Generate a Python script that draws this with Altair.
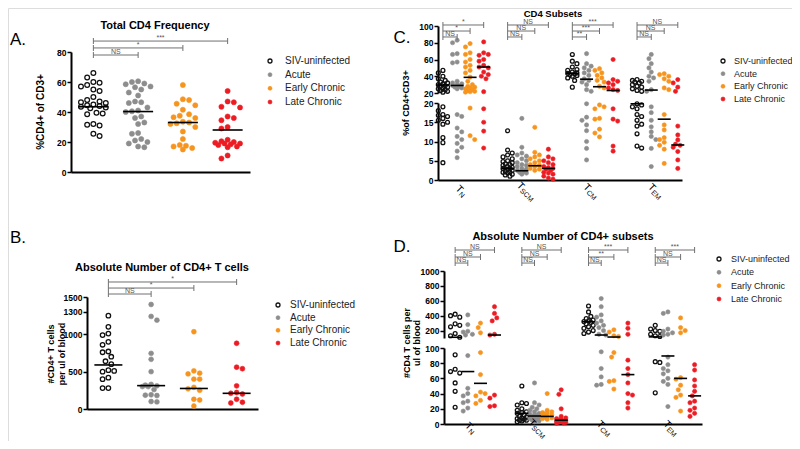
import math
import altair as alt
import pandas as pd

M = 8
W, H = 784, 433
FONT = "Liberation Sans, Arial, sans-serif"
GRAY = "#707070"

GROUPS = ["SIV-uninfected", "Acute", "Early Chronic", "Late Chronic"]
FILLS = ["transparent", "#8d8d8d", "#f7941d", "#ed1c24"]
STROKES = ["#111111", "#8d8d8d", "#f7941d", "#ed1c24"]
SUBSETS = ["N", "SCM", "CM", "EM"]

# ---------------- Panel A: %CD4+ of CD3+
A_SIV = [66, 63, 60, 59.5, 58, 57, 55, 54, 50, 48, 47, 46.5, 46, 45, 44.5, 44, 43.5, 43, 42.5, 39.5, 39, 38.5, 32, 31.5, 31, 25.5, 24]
A_ACUTE = [60.5, 60, 59, 58.5, 57, 56.5, 55, 53, 51, 47, 46.5, 46, 43, 41, 40.5, 40, 37, 36, 33, 32, 26, 25.5, 22, 21, 20, 19, 17, 16.5]
A_EARLY = [58, 48.5, 48, 45.5, 44.5, 41.5, 38.5, 37.5, 36.5, 36, 33.5, 33, 32.5, 32, 30, 27, 22, 18, 17.5, 17, 16, 15]
A_LATE = [54, 47, 46.5, 43.5, 43, 37, 36, 34.5, 30, 29, 21.5, 20.5, 20, 19.5, 19, 19, 18.5, 18, 17, 16.5, 11, 9]
A_MEDIAN = [43.5, 40.3, 33.0, 28.0]
A_SIG = ["NS", "*", "***"]
A_TICKS = [0, 20, 40, 60, 80]

# ---------------- Panel B: absolute CD4+ T cells
B_SIV = [1250, 1100, 1010, 990, 900, 860, 770, 760, 700, 640, 600, 520, 510, 500, 420, 400, 280, 280]
B_ACUTE = [1400, 1240, 1190, 745, 665, 500, 330, 320, 310, 300, 300, 260, 190, 185, 180, 100, 95]
B_EARLY = [1035, 510, 480, 470, 400, 400, 290, 270, 250, 130, 120, 40]
B_LATE = [880, 560, 540, 310, 220, 210, 200, 130, 90, 80]
B_MEDIAN = [590, 313, 275, 210]
B_SIG = ["NS", "*", "*"]
B_TICKS = [0, 500, 1000, 1300, 1500]

# ---------------- Panel C: CD4 subsets (% of CD4+CD3+), per group: [TN, TSCM, TCM, TEM]
C_SIV = [
    [47, 44, 40, 37, 35, 33, 32, 31, 30, 29, 28, 27, 26, 25, 24, 23, 22, 21, 19, 18, 17, 16.8, 16.5, 16, 15.5, 15, 14.5, 11, 9.7, 4.5],
    [12.8, 7.8, 7, 6.5, 6, 5.5, 5, 4.8, 4.5, 4.2, 4, 3.8, 3.5, 3.3, 3, 3, 2.8, 2.5, 2.3, 2, 2, 1.8, 1.5, 1.3, 1],
    [66, 58, 55, 51, 48, 47, 45, 44, 43.5, 43, 42, 41, 40, 38, 35, 27],
    [36, 35, 34, 33, 32, 30, 28, 27, 25, 23, 22, 19.8, 19.5, 19, 18.5, 17, 16.5, 15.5, 14.5, 14, 12, 8.8, 8.3],
]
C_ACUTE = [
    [83, 80, 67, 66, 57, 56, 34, 32, 31, 30, 29, 28, 27, 26, 25, 17, 16.5, 13.5, 12.5, 11.3, 10.5, 9.5, 8.5, 7.5, 5.8],
    [16, 8.5, 7, 6.5, 6.2, 5.5, 5, 4.5, 4, 3.8, 3.5, 3, 2.8, 2.5, 2.2, 2, 1.8, 1.5],
    [67, 55, 52, 50, 47, 44, 41, 37, 35, 33, 30, 24, 22, 19.8, 16.3, 15.5, 14.3, 12.8, 10, 8.2, 5.2],
    [66, 61, 55, 50, 45, 40, 38, 34, 24, 22, 19, 17.5, 15.5, 13.8, 12.5, 11.3, 10.5, 8.2, 3.5],
]
C_EARLY = [
    [79, 75, 68, 66, 60, 57, 53, 51, 47, 44, 39, 34, 30, 28, 27, 26, 25, 24, 23, 22, 21.5, 21, 18.7, 11.5, 10.5],
    [13.7, 7.2, 6.5, 6, 5.5, 5, 4.5, 4, 3.8, 3.5, 3, 2.8, 2.5],
    [49, 47, 44, 41, 38, 35, 33, 28, 26, 19.5, 19, 18.5, 16, 15.8, 13.2, 12.2, 11.2],
    [43, 42, 40, 37, 34, 26, 24, 17, 14.3, 13, 11, 10.5, 9.8, 9, 8, 4.3],
]
C_LATE = [
    [81, 68, 66, 65, 60, 58, 53, 51, 50, 45, 42, 40, 37, 21.5, 18.5, 15, 12.7, 8.3],
    [8, 6, 5.5, 5, 4.5, 4, 3.5, 3.2, 3, 2.8, 2.5, 2, 1.8, 1.5, 1, 0.5, 0.2],
    [60, 36, 34, 32, 30, 26, 24, 23, 18.5, 15.8, 15.3, 8.8, 7.5],
    [36, 32, 27, 22, 14, 11.7, 10.4, 9.3, 9, 8.5, 7.4, 5.2, 3],
]
C_MEDIAN = [[29.5, 3.0, 43.5, 19.8], [29, 2.4, 36.5, 23.5], [38.7, 3.7, 27.5, 15.8], [51, 3.0, 23, 9.1]]
C_SIG = [["NS", "*", "*"], ["NS", "NS", "NS"], ["**", "***", "***"], ["NS", "NS", "NS"]]
C_TICKS_LOW = [0, 5, 10, 15, 20]
C_TICKS_HIGH = [20, 40, 60, 80, 100]

# ---------------- Panel D: absolute number of CD4+ subsets, per group: [TN, TSCM, TCM, TEM]
D_SIV = [
    [420, 400, 380, 290, 270, 250, 160, 130, 110, 91, 72, 69, 67, 54, 43, 22],
    [50, 28, 27, 25, 20, 18, 16, 15, 14, 12, 10, 9, 8, 7, 6, 5, 5, 4, 3],
    [530, 450, 390, 360, 340, 330, 320, 310, 290, 270, 250, 230, 200, 180, 160],
    [270, 220, 200, 190, 150, 130, 120, 82, 81, 41],
]
D_ACUTE = [
    [410, 280, 190, 180, 150, 140, 90, 47, 40, 37, 30, 28, 21, 17],
    [54, 28, 25, 22, 20, 18, 16, 14, 13, 12, 11, 10, 9, 8, 7, 6, 5, 4, 3],
    [630, 520, 410, 380, 330, 300, 270, 240, 200, 150, 140, 95, 73, 62, 52, 51],
    [450, 430, 220, 190, 170, 150, 140, 88, 78, 73, 70, 66, 60, 56, 52, 23],
]
D_EARLY = [
    [300, 240, 170, 94, 65, 42, 40, 37, 31, 27],
    [40, 18, 16, 15, 14, 13, 12, 11, 10, 9, 8, 7, 6],
    [210, 180, 130, 120, 94, 88, 57, 56, 46],
    [370, 240, 200, 170, 61, 59, 51, 45, 38, 35, 17],
]
D_LATE = [
    [520, 430, 370, 330, 150, 140, 38, 34, 24, 23],
    [45, 39, 20, 10, 8, 7, 6, 5, 4.5, 4, 3.5, 3, 2.5, 2, 1.5, 1],
    [300, 230, 150, 84, 73, 65, 54, 40, 38, 28, 21],
    [78, 71, 58, 50, 43, 37, 30, 28, 21, 18, 14, 10],
]
D_MEDIAN = [[110, 14, 319, 115], [69, 10.5, 140, 89.5], [53.5, 10, 113, 60], [140, 5, 65, 37]]
D_SIG = [["NS", "NS", "NS"], ["NS", "NS", "NS"], ["NS", "**", "***"], ["NS", "NS", "***"]]
D_TICKS_LOW = [0, 20, 40, 60, 80, 100]
D_TICKS_HIGH = [200, 400, 600, 800, 1000]


# ---------------------------------------------------------------- helpers
def lin(v, d, p):
    return p[0] + (v - d[0]) / (d[1] - d[0]) * (p[1] - p[0])


def swarm(ys, diam, maxw, step):
    order = sorted(range(len(ys)), key=lambda i: ys[i])
    cands = [0.0]
    k = 1
    while k * step <= maxw + 1e-9:
        cands += [k * step, -k * step]
        k += 1
    placed, out = [], [0.0] * len(ys)
    for n, i in enumerate(order):
        y = ys[i]
        cc = cands if n % 2 == 0 else [-c for c in cands]
        best, bestd = 0.0, -1.0
        for c in cc:
            md = min((math.hypot(c - px, y - py) for px, py in placed), default=1e9)
            if md >= diam:
                best = c
                break
            if md > bestd:
                best, bestd = c, md
        placed.append((best, y))
        out[i] = best
    return out


def scl(dom, px):
    return alt.Scale(domain=list(dom), range=[px[0] - M, px[1] - M], nice=False, zero=False)


def y_axis(xpx, ticks):
    return alt.Axis(orient="left", offset=-(xpx[0] - M), values=ticks, format="d", grid=False, title=None,
                    domainColor="black", domainWidth=2, tickColor="black", tickWidth=1.5, tickSize=4,
                    labelFont=FONT, labelFontSize=8.5, labelFontWeight="bold", labelColor="black",
                    labelPadding=1, labelOverlap=False, labelFlush=False)


def x_axis(ypx):
    return alt.Axis(orient="bottom", offset=(ypx - M) - H, labels=False, ticks=False, grid=False, title=None,
                    domainColor="black", domainWidth=2)


color_fill = alt.Fill("g:N", scale=alt.Scale(domain=GROUPS, range=FILLS), legend=None)
color_stroke = alt.Stroke("g:N", scale=alt.Scale(domain=GROUPS, range=STROKES), legend=None)


def build_panel(xdom, xpx, segs, data, medians, sig, levels, center, diam, maxw, sizes, med_w):
    xsc = scl(xdom, xpx)
    xppu = (xpx[1] - xpx[0]) / (xdom[1] - xdom[0])

    def seg_of(v):
        idx = 0
        for i, s in enumerate(segs):
            if v > s[0][0]:
                idx = i
        return idx

    rows, mrows = [], []
    for g, glists in enumerate(data):
        for j, vals in enumerate(glists):
            ys = [lin(v, segs[seg_of(v)][0], segs[seg_of(v)][1]) for v in vals]
            offs = swarm(ys, diam, maxw, diam / 2)
            for v, o in zip(vals, offs):
                rows.append(dict(x=center(j, g) + o / xppu, v=v, g=GROUPS[g], s=seg_of(v),
                                 sz=sizes[0] if g == 0 else sizes[1], sw=1.3 if g == 0 else 0.6))
            m = medians[g][j]
            mrows.append(dict(x=center(j, g), v=m, s=seg_of(m)))
    df = pd.DataFrame(rows)
    dfm = pd.DataFrame(mrows)

    layers = []
    for i, (dom, px, ticks) in enumerate(segs):
        ysc = scl(dom, px)
        sub = df[df.s == i]
        layers.append(
            alt.Chart(sub).mark_point(opacity=1).encode(
                x=alt.X("x:Q", scale=xsc, axis=x_axis(segs[0][1][0]) if i == 0 else None),
                y=alt.Y("v:Q", scale=ysc, axis=y_axis(xpx, ticks)),
                fill=color_fill, stroke=color_stroke,
                size=alt.Size("sz:Q", scale=None),
                strokeWidth=alt.StrokeWidth("sw:Q", scale=None),
            )
        )
        msub = dfm[dfm.s == i]
        if len(msub):
            layers.append(
                alt.Chart(msub).mark_tick(orient="horizontal", size=med_w, thickness=1.6, color="black", opacity=1).encode(
                    x=alt.X("x:Q", scale=xsc, axis=None),
                    y=alt.Y("v:Q", scale=ysc, axis=None),
                )
            )

    # significance brackets (top segment scale)
    ytop = scl(segs[-1][0], segs[-1][1])
    brows, erows = [], []
    for j, labs in enumerate(sig):
        for k, lab in enumerate(labs):
            x1, x2 = center(j, 0), center(j, k + 1)
            brows.append(dict(x1=x1, x2=x2, xm=(x1 + x2) / 2, y=levels[k], t=lab))
            erows.append(dict(x=x1, y=levels[k]))
            erows.append(dict(x=x2, y=levels[k]))
    dfb, dfe = pd.DataFrame(brows), pd.DataFrame(erows)
    layers.append(alt.Chart(dfb).mark_rule(color=GRAY, strokeWidth=1).encode(
        x=alt.X("x1:Q", scale=xsc, axis=None), x2="x2:Q", y=alt.Y("y:Q", scale=ytop, axis=None)))
    layers.append(alt.Chart(dfe).mark_tick(orient="vertical", size=6, thickness=1, color=GRAY, opacity=1).encode(
        x=alt.X("x:Q", scale=xsc, axis=None), y=alt.Y("y:Q", scale=ytop, axis=None)))
    layers.append(alt.Chart(dfb).mark_text(fontSize=7, font=FONT, color="#555555", baseline="bottom", dy=0).encode(
        x=alt.X("xm:Q", scale=xsc, axis=None), y=alt.Y("y:Q", scale=ytop, axis=None), text="t:N"))
    return layers, xsc, xppu


def cat_labels(xsc, xppu, ycenter, dxc):
    rows = []
    for j, sub in enumerate(SUBSETS):
        wT = 6.1
        wS = 7 * 0.68 * len(sub)
        off = wT - (wT + wS) / 2
        rows.append(dict(x=j + (dxc + off * 0.7071) / xppu, ly=ycenter - M + off * 0.7071, T="T", s=sub))
    df = pd.DataFrame(rows)
    t1 = alt.Chart(df).mark_text(angle=45, align="right", baseline="middle", fontSize=10, font=FONT,
                                 color="black").encode(x=alt.X("x:Q", scale=xsc, axis=None),
                                                       y=alt.Y("ly:Q", scale=None), text="T:N")
    t2 = alt.Chart(df).mark_text(angle=45, align="left", baseline="middle", fontSize=7, font=FONT,
                                 color="black", dy=2.5).encode(x=alt.X("x:Q", scale=xsc, axis=None),
                                                               y=alt.Y("ly:Q", scale=None), text="s:N")
    return [t1, t2]


def txt(s, x, y, size=10, weight="normal", angle=0, color="black", baseline="middle"):
    return alt.Chart(pd.DataFrame({"t": [s]})).mark_text(
        fontSize=size, fontWeight=weight, angle=angle, align="center", baseline=baseline,
        color=color, font=FONT).encode(x=alt.value(x - M), y=alt.value(y - M), text="t:N")


def legend(sx, tx, y0, y1, fs=10):
    df = pd.DataFrame({"g": GROUPS, "r": [0, 1, 2, 3], "sw": [1.3, 0.6, 0.6, 0.6]})
    ysc = alt.Scale(domain=[0, 3], range=[y0 - M, y1 - M], nice=False, zero=False)
    pts = alt.Chart(df).mark_point(opacity=1, size=16).encode(
        x=alt.value(sx - M), y=alt.Y("r:Q", scale=ysc, axis=None),
        fill=color_fill, stroke=color_stroke, strokeWidth=alt.StrokeWidth("sw:Q", scale=None))
    lab = alt.Chart(df).mark_text(align="left", baseline="middle", fontSize=fs, font=FONT, color="#222222").encode(
        x=alt.value(tx - M), y=alt.Y("r:Q", scale=ysc, axis=None), text="g:N")
    return [pts, lab]


# ---------------------------------------------------------------- panels
OFF_C = [-0.31, -0.09, 0.11, 0.32]
OFF_D = [-0.29, -0.10, 0.09, 0.30]

layA, _, _ = build_panel(
    (0, 4), (71, 250), [((0, 80), (172, 52), A_TICKS)],
    [[A_SIV], [A_ACUTE], [A_EARLY], [A_LATE]], [[m] for m in A_MEDIAN], [A_SIG],
    [78, 82.7, 87.3], lambda j, g: g + 0.5, 6.2, 15, (22, 26), 30)

layB, _, _ = build_panel(
    (0, 4), (87, 258), [((0, 1500), (409, 297), B_TICKS)],
    [[B_SIV], [B_ACUTE], [B_EARLY], [B_LATE]], [[m] for m in B_MEDIAN], [B_SIG],
    [1540, 1620, 1701], lambda j, g: g + 0.5, 5.8, 11, (20, 24), 28)

layC, xscC, xppuC = build_panel(
    (-0.386, 3.385), (438, 682),
    [((0, 20), (180, 103), C_TICKS_LOW), ((20, 100), (93, 26), C_TICKS_HIGH)],
    [C_SIV, C_ACUTE, C_EARLY, C_LATE], C_MEDIAN, C_SIG,
    [86.9, 94.0, 101.2], lambda j, g: j + OFF_C[g], 4.6, 5.5, (15, 18), 13)

layD, xscD, xppuD = build_panel(
    (-0.457, 3.411), (444, 702),
    [((0, 100), (424, 348), D_TICKS_LOW), ((100, 1000), (338, 271), D_TICKS_HIGH)],
    [D_SIV, D_ACUTE, D_EARLY, D_LATE], D_MEDIAN, D_SIG,
    [1107, 1188, 1282], lambda j, g: j + OFF_D[g], 4.6, 5.5, (15, 18), 13)

texts = [
    txt("Total CD4 Frequency", 155, 26, 11, "bold"),
    txt("Absolute  Number of CD4+ T cells", 162, 268, 11, "bold"),
    txt("CD4 Subsets", 553, 8.5, 9.5, "bold", baseline="top"),
    txt("Absolute Number of CD4+ subsets", 563, 237, 11, "bold"),
    txt("%CD4+ of CD3+", 41, 112, 10, "bold", 270),
    txt("#CD4+ T cells", 51, 354, 9, "bold", 270),
    txt("per ul of blood", 62, 354, 9, "bold", 270),
    txt("%of CD4+CD3+", 406, 103, 9, "bold", 270),
    txt("#CD4 T cells per", 407, 343, 9, "bold", 270),
    txt("ul of blood", 417, 343, 9, "bold", 270),
    txt("A.", 18, 40, 17),
    txt("B.", 18, 238, 17),
    txt("C.", 402, 38, 17),
    txt("D.", 402, 247, 17),
]

legends = (legend(270, 285, 61, 102) + legend(278, 290, 305, 343)
           + legend(723, 734, 61, 99, 9) + legend(719, 731, 259, 299, 9))

layers = (layA + layB + layC + cat_labels(xscC, xppuC, 191, -2) + layD + cat_labels(xscD, xppuD, 428, -4)
          + texts + legends)

chart = alt.layer(*layers).resolve_scale(x="independent", y="independent").properties(
    width=W, height=H, autosize=alt.AutoSizeParams(type="none"), padding=0
).configure_view(stroke=None).configure(background="white")

chart.save("out.html", embed_options={"renderer": "svg", "actions": False})
